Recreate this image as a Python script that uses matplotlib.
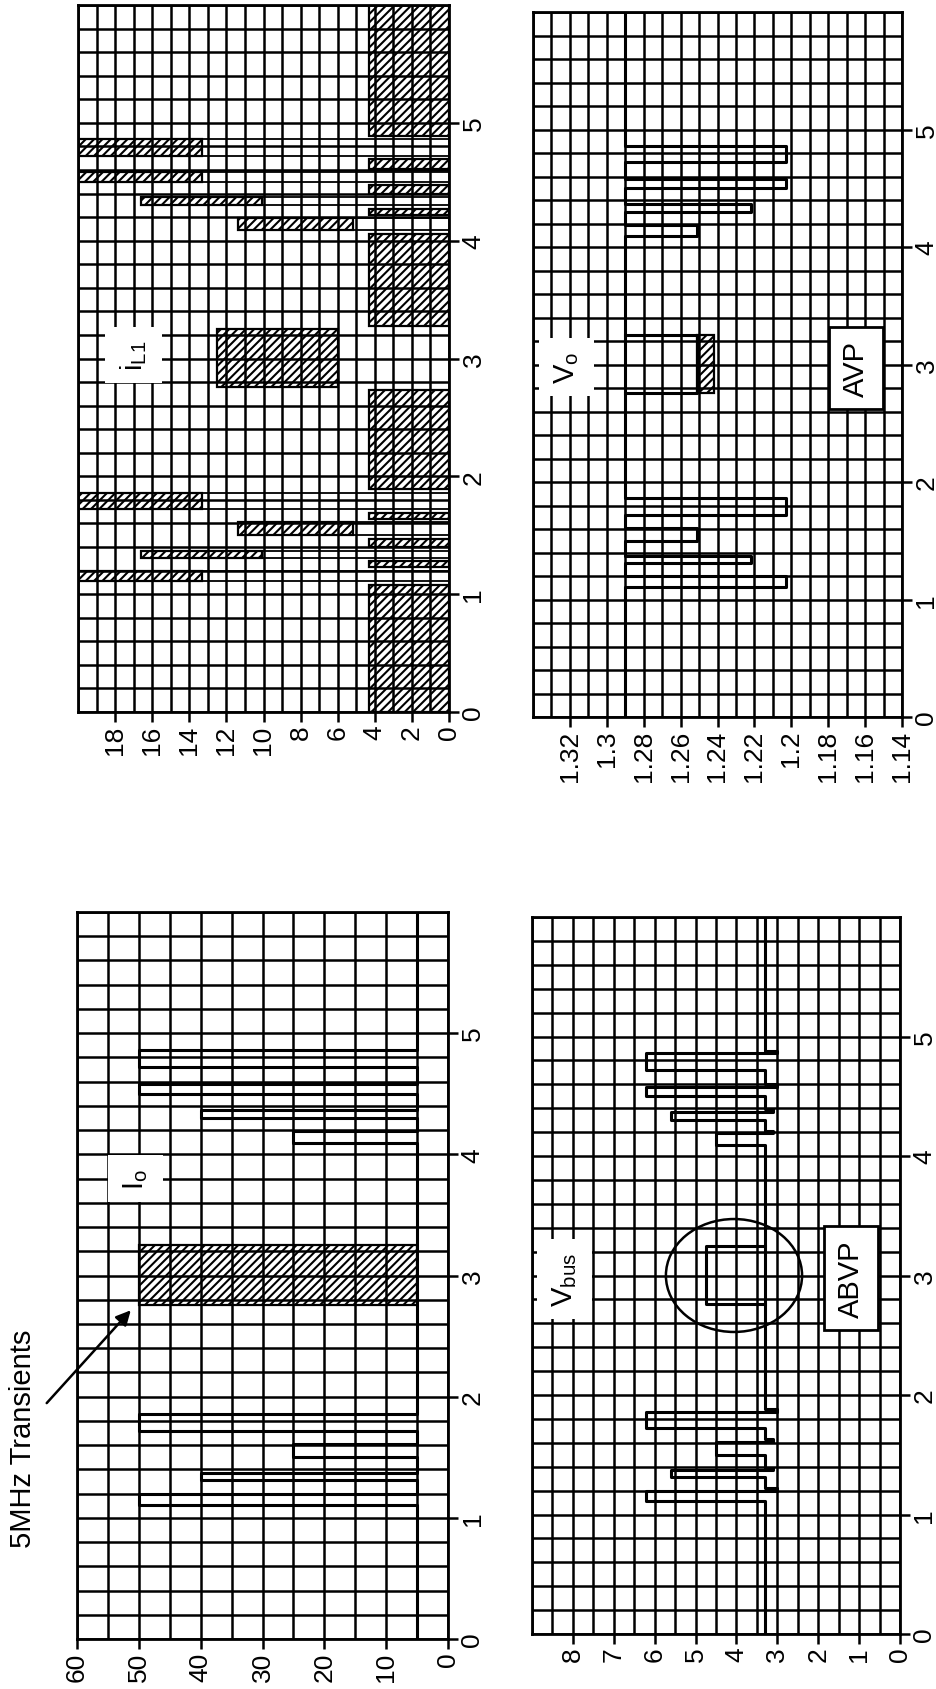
import matplotlib.pyplot as plt
from matplotlib.ticker import MultipleLocator
from matplotlib.patches import Ellipse

plt.rcParams['font.family'] = ['Liberation Sans', 'DejaVu Sans']
plt.rcParams['mathtext.fontset'] = 'custom'
plt.rcParams['mathtext.rm'] = 'Liberation Sans'
plt.rcParams['mathtext.it'] = 'Liberation Sans'
plt.rcParams['hatch.linewidth'] = 1.5
plt.rcParams['hatch.color'] = 'black'

# load steps (us): start, end and load current of each step
pulse_start = [1.11, 1.31, 1.50, 1.72, 4.09, 4.30, 4.50, 4.72]
pulse_end = [1.20, 1.37, 1.61, 1.86, 4.19, 4.37, 4.58, 4.86]
pulse_load = [50, 40, 25, 50, 25, 40, 50, 50]
burst_start, burst_end = 2.76, 3.25   # 5MHz transient window
t_end = 6.0

# output current I_o (A)
io_base = 5
io_level = {50: 50, 40: 40, 25: 25}
io_burst = [5, 50]

# phase current i_L1 (A): ripple envelope per load level
il_ripple = [0, 4.3]
il_low = {50: 13.3, 40: 10.1, 25: 5.2}
il_high = {50: 20.0, 40: 16.6, 25: 11.4}
il_burst = [6.0, 12.5]

# output voltage V_o (V), AVP
vo_base = 1.29
vo_level = {50: 1.203, 40: 1.222, 25: 1.251}
vo_burst = [1.242, 1.251]

# bus voltage V_bus (V), ABVP
vb_base = 3.3
vb_level = {50: 6.2, 40: 5.6, 25: 4.5}
vb_dip = {50: 3.0, 40: 3.1, 25: 3.1}
vb_burst = 4.75

io_ticks = [0, 10, 20, 30, 40, 50, 60]
il_ticks = [0, 2, 4, 6, 8, 10, 12, 14, 16, 18]
vo_ticks = [1.14, 1.16, 1.18, 1.2, 1.22, 1.24, 1.26, 1.28, 1.3, 1.32]
vo_labels = ['1.14', '1.16', '1.18', '1.2', '1.22', '1.24', '1.26', '1.28', '1.3', '1.32']
vb_ticks = [0, 1, 2, 3, 4, 5, 6, 7, 8]
t_ticks = [0, 1, 2, 3, 4, 5]

W, H = 937, 1690
fig = plt.figure(figsize=(W / 100, H / 100), dpi=100)


def panel(x0, y0, x1, y1, vmax, vmin, vticks, vlabels, vstep):
    ax = fig.add_axes([x0 / W, 1 - y1 / H, (x1 - x0) / W, (y1 - y0) / H])
    ax.set_xlim(vmax, vmin)
    ax.set_ylim(0, t_end)
    ax.set_xticks(vticks)
    ax.set_xticklabels(vlabels, rotation=90, fontsize=19)
    ax.xaxis.set_minor_locator(MultipleLocator(vstep))
    ax.yaxis.tick_right()
    ax.set_yticks(t_ticks)
    ax.set_yticklabels([str(t) for t in t_ticks], rotation=90, va='center', fontsize=19)
    ax.yaxis.set_minor_locator(MultipleLocator(0.2))
    ax.tick_params(which='major', direction='out', length=7, width=1.8, pad=2)
    ax.tick_params(which='minor', length=0)
    ax.grid(which='both', color='black', lw=1.8)
    ax.set_axisbelow(False)
    for s in ax.spines.values():
        s.set_linewidth(2.0)
    return ax


def step_trace(base, level, dip=None):
    t, v = [0.0], [base]
    for t0, t1, load in zip(pulse_start, pulse_end, pulse_load):
        t += [t0, t0, t1, t1]
        v += [base, level[load], level[load], dip[load] if dip else base]
        if dip:
            t += [t1 + 0.02, t1 + 0.02]
            v += [dip[load], base]
    t.append(t_end)
    v.append(base)
    return t, v


def label(ax, v, t, s, size=21, boxed=False):
    bb = dict(facecolor='white', edgecolor='black' if boxed else 'none',
              lw=2.0, boxstyle='square,pad=0.45')
    ax.text(v, t, s, rotation=90, ha='center', va='center', fontsize=size,
            bbox=bb, zorder=6)


hatch = dict(facecolor='white', edgecolor='black', hatch='////', lw=1.6, zorder=2)
trace = dict(color='black', lw=2.2, zorder=3)

# ---- I_o ----
ax = panel(77, 913, 448, 1640, 60, 0, io_ticks, [str(v) for v in io_ticks], 5)
t, v = step_trace(io_base, io_level)
ax.plot(v, t, **trace)
ax.barh((burst_start + burst_end) / 2, io_burst[1] - io_burst[0], burst_end - burst_start,
        left=io_burst[0], **hatch)
label(ax, 50.6, 3.8, r'$\mathregular{I_o}$')
ax.annotate('', xy=(51, 2.73), xytext=(65.2, 1.93), annotation_clip=False,
            arrowprops=dict(arrowstyle='-|>', lw=1.8, color='black', mutation_scale=22))
ax.text(68.8, 1.66, '5MHz Transients', rotation=90, ha='center', va='center',
        fontsize=21, clip_on=False)

# ---- i_L1 ----
ax = panel(78, 6, 449, 713, 20, 0, il_ticks, [str(v) for v in il_ticks], 1)
events = sorted(list(zip(pulse_start, pulse_end)) + [(burst_start, burst_end)])
gaps = [0.0]
for t0, t1 in events:
    gaps += [t0 - 0.03, t1 + 0.03]
gaps.append(t_end)
for g0, g1 in zip(gaps[0::2], gaps[1::2]):
    ax.barh((g0 + g1) / 2, il_ripple[1] - il_ripple[0], g1 - g0, left=il_ripple[0], **hatch)
for t0, t1, load in zip(pulse_start, pulse_end, pulse_load):
    ax.barh((t0 + t1) / 2, il_high[load] - il_low[load], t1 - t0, left=il_low[load], **hatch)
    ax.hlines([t0, t1], 0, il_low[load], color='black', lw=1.3, zorder=3)
ax.barh((burst_start + burst_end) / 2, il_burst[1] - il_burst[0], burst_end - burst_start,
        left=il_burst[0], **hatch)
label(ax, 17.0, 3.03, r'$\mathregular{i_{L1}}$')

# ---- V_o ----
ax = panel(533, 13, 902, 718, 1.34, 1.14, vo_ticks, vo_labels, 0.01)
t, v = step_trace(vo_base, vo_level)
ax.plot(v, t, **trace)
ax.plot([vo_base, vo_burst[1], vo_burst[1], vo_base],
        [burst_start, burst_start, burst_end, burst_end], **trace)
ax.barh((burst_start + burst_end) / 2, vo_burst[1] - vo_burst[0], burst_end - burst_start,
        left=vo_burst[0], **hatch)
label(ax, 1.322, 2.98, r'$\mathregular{V_o}$')
label(ax, 1.165, 2.97, 'AVP', boxed=True)

# ---- V_bus ----
ax = panel(532, 918, 900, 1635, 9, 0, vb_ticks, [str(v) for v in vb_ticks], 0.5)
t, v = step_trace(vb_base, vb_level, dip=vb_dip)
ax.plot(v, t, **trace)
ax.plot([vb_base, vb_burst, vb_burst, vb_base],
        [burst_start, burst_start, burst_end, burst_end], **trace)
ax.add_patch(Ellipse((4.06, 3.0), 3.33, 0.945, fill=False, lw=1.8, zorder=4))
label(ax, 8.2, 2.97, r'$\mathregular{V_{bus}}$')
label(ax, 1.2, 2.98, 'ABVP', boxed=True)

fig.savefig('out.png', dpi=100)
